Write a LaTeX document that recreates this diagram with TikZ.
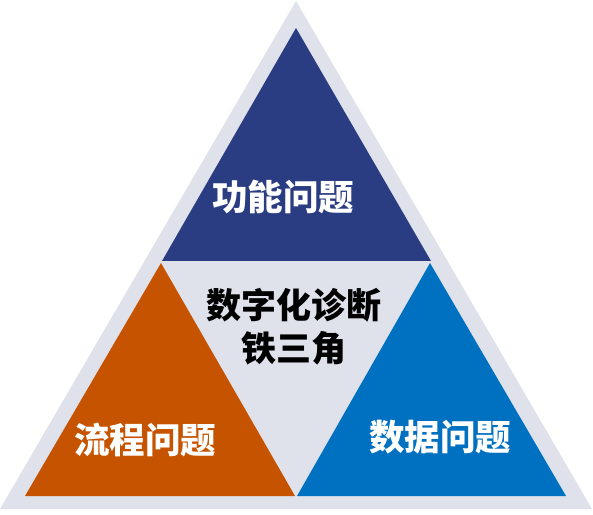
\documentclass[tikz,border=0pt]{standalone}
\usepackage{fontspec}
\newfontfamily\cjk{Noto Sans CJK SC}
\definecolor{outergrey}{HTML}{DFE1EB}
\definecolor{navy}{HTML}{2A3C82}
\definecolor{rust}{HTML}{C65300}
\definecolor{azure}{HTML}{0070C0}
\tikzset{
  lbl/.style={font=\cjk\bfseries\fontsize{35.5}{40}\selectfont, inner sep=0pt, align=center},
  white lbl/.style={lbl, text=white},
  dark lbl/.style={lbl, text=black, font=\cjk\bfseries\fontsize{35}{43}\selectfont}
}
\begin{document}
\begin{tikzpicture}[x=1pt,y=1pt]
\fill[white] (0,0) rectangle (593,514);
\useasboundingbox (0,0) rectangle (593,514);
% outer triangle
\fill[outergrey] (296,513) -- (0,5) -- (592,5) -- cycle;
% top
\fill[navy] (296,486) -- (162,253) -- (431,253) -- cycle;
% bottom left
\fill[rust] (25,18) -- (295,18) -- (161,251) -- cycle;
% bottom right
\fill[azure] (297,18) -- (566,18) -- (430,251) -- cycle;
\node[white lbl] (func) at (283,317) {功能问题};
\node[dark lbl] (core) at (294,187) {数字化诊断\\铁三角};
\node[white lbl] (proc) at (145,74) {流程问题};
\node[white lbl] (data) at (440,77) {数据问题};
\end{tikzpicture}
\end{document}
